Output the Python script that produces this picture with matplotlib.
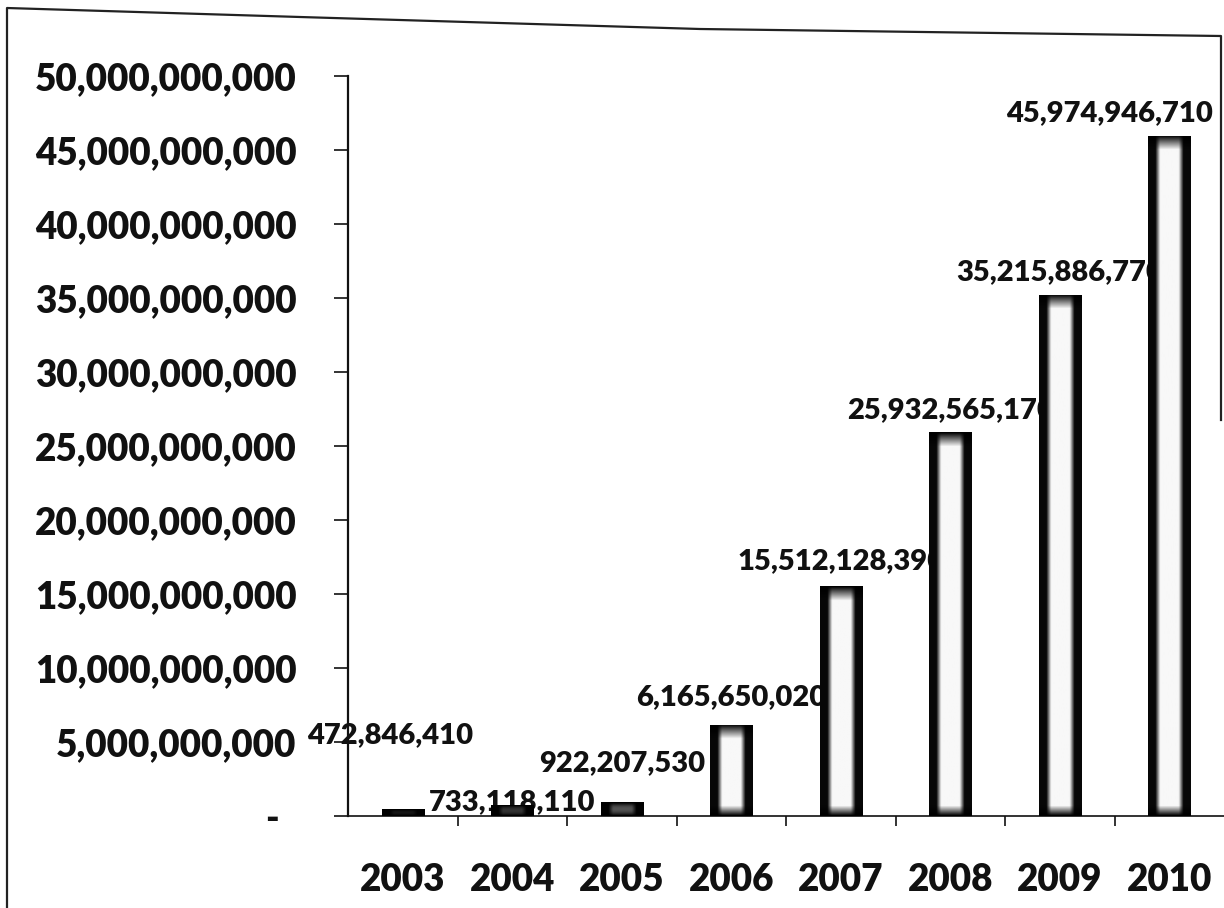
import numpy as np
import matplotlib
matplotlib.use("Agg")
import matplotlib.pyplot as plt
from matplotlib.lines import Line2D
from matplotlib.ticker import FuncFormatter, FixedLocator

# nilai per tahun
tahun = ["2003", "2004", "2005", "2006", "2007", "2008", "2009", "2010"]
nilai = [472846410, 733118110, 922207530, 6165650020,
         15512128390, 25932565170, 35215886770, 45974946710]
yticks = np.arange(0, 50e9 + 1, 5e9)

# geser label (poin) supaya label kecil tidak saling tumpuk
geser_label = [(-9, 53), (0, 2), (0, 28), (0, 20),
               (0, 18), (0, 16), (0, 16), (-43, 16)]

plt.rcParams["font.family"] = ["Lato", "DejaVu Sans"]
plt.rcParams["font.weight"] = "heavy"

fig = plt.figure(figsize=(12.24, 9.08), dpi=100)
ax = fig.add_axes([348 / 1224, 92 / 908, 876 / 1224, 740 / 908])

x = np.arange(len(tahun))
lebar = 0.385
skala = 740 / 50e9   # piksel per rupiah, buat tebal pita atas/bawah

bars = ax.bar(x, nilai, width=lebar, color="#0d0d0d", zorder=3)

# isi batang: tepi gelap, tengah terang
for b, v in zip(bars, nilai):
    tinggi_px = max(v * skala, 1)
    ny = max(int(tinggi_px), 2)
    u = np.abs(np.linspace(-1, 1, 60))
    bh = np.clip((0.66 - u) / 0.22, 0, 1) * 0.94 + 0.03
    t = np.linspace(0, tinggi_px, ny)[:, None]
    bv = np.clip(t / 10.0, 0, 1) * np.clip((tinggi_px - t) / 14.0, 0, 1)
    img = 1 - bh[None, :] * bv
    x0 = b.get_x()
    im = ax.imshow(img, cmap="gray_r", vmin=0, vmax=1, aspect="auto",
                   origin="lower", extent=(x0, x0 + lebar, 0, v),
                   zorder=3.5, interpolation="bilinear")
    im.set_clip_path(b)

# label nilai di atas batang (di belakang batang sebelah)
for xi, v, (dx, dy) in zip(x, nilai, geser_label):
    ax.annotate(f"{v:,}", (xi, v), xytext=(dx, dy), textcoords="offset points",
                ha="center", va="center", fontsize=21, fontweight="heavy",
                color="#111111", zorder=1)

ax.set_xlim(-0.5, len(tahun) - 0.5)
ax.set_ylim(0, 50e9)
ax.set_yticks(yticks)
ax.yaxis.set_major_formatter(FuncFormatter(lambda v, p: "-  " if v == 0 else f"{v:,.0f}"))
ax.tick_params(axis="y", direction="out", length=10, width=1.2, pad=27,
               labelsize=26.5, colors="#111111")

ax.set_xticks(x)
ax.set_xticklabels(tahun)
ax.xaxis.set_minor_locator(FixedLocator(np.arange(0.5, len(tahun) - 0.5, 1)))
ax.tick_params(axis="x", which="major", length=0, pad=34, labelsize=26.5,
               colors="#111111")
ax.tick_params(axis="x", which="minor", direction="out", length=7, width=1.2,
               color="#111111")
for lbl in ax.get_xticklabels() + ax.get_yticklabels():
    lbl.set_fontweight("heavy")

for s in ["top", "right"]:
    ax.spines[s].set_visible(False)
ax.spines["left"].set_linewidth(1.6)
ax.spines["bottom"].set_linewidth(1.2)
ax.spines["left"].set_color("#111111")
ax.spines["bottom"].set_color("#111111")
ax.spines["left"].set_zorder(2.5)

# bingkai luar grafik
W, H = 1224, 908
bingkai = [(7, 908), (7, 8), (300, 17), (700, 29), (1221, 36), (1221, 420)]
bx = [p[0] / W for p in bingkai]
by = [1 - p[1] / H for p in bingkai]
fig.add_artist(Line2D(bx, by, color="#222222", lw=1.6, transform=fig.transFigure))

fig.savefig("out.png", dpi=100)
